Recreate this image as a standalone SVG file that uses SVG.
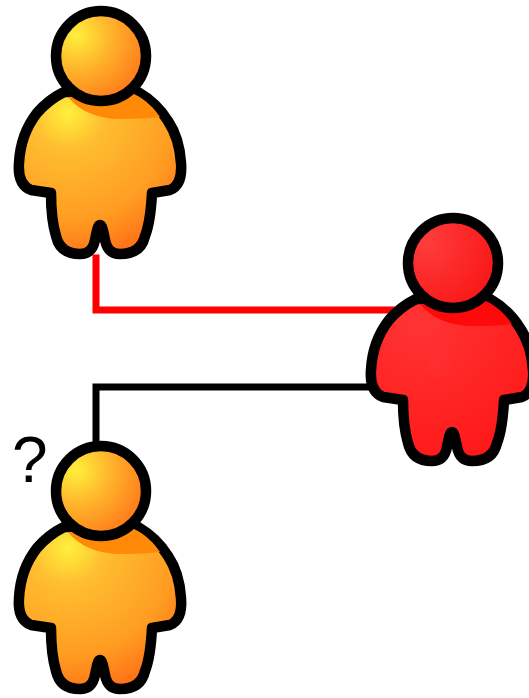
<svg xmlns="http://www.w3.org/2000/svg" xmlns:xlink="http://www.w3.org/1999/xlink" width="529" height="698" viewBox="0 0 529 698">
<style>
.outline{stroke:#000;stroke-width:10.5;stroke-linejoin:round}
.link{fill:none;stroke-width:7;stroke-linecap:square;stroke-linejoin:miter}
text{font-family:"Liberation Sans",Arial,sans-serif;font-size:64px;fill:#000}
</style>
<defs>
<radialGradient id="ob" gradientUnits="userSpaceOnUse" cx="68" cy="113" r="165"><stop offset="0" stop-color="#fff03c"/><stop offset=".22" stop-color="#ffbe30"/><stop offset=".65" stop-color="#ff9c22"/><stop offset="1" stop-color="#ff5f12"/></radialGradient>
<radialGradient id="oh" gradientUnits="userSpaceOnUse" cx="76" cy="35" r="85"><stop offset="0" stop-color="#fff03c"/><stop offset=".4" stop-color="#ffb52c"/><stop offset="1" stop-color="#ff6a14"/></radialGradient>
<radialGradient id="rb" gradientUnits="userSpaceOnUse" cx="68" cy="113" r="160"><stop offset="0" stop-color="#ff3434"/><stop offset="1" stop-color="#ff1616"/></radialGradient>
<radialGradient id="rh" gradientUnits="userSpaceOnUse" cx="76" cy="35" r="85"><stop offset="0" stop-color="#ff3c3c"/><stop offset="1" stop-color="#f81212"/></radialGradient>
<path id="body" class="outline" d="M64 92C50 99 43 106 37 113C26 127 20 145 19 163C18 176 21 186 31 190L51 193C51 212 53 226 56 236C59 249 68 254 80 254C88 254 93 250 95 240C97 230 98 225 100 225C102 225 103 230 105 240C107 250 112 254 120 254C133 254 142 249 145 236C149 226 151 212 152 193L170 190C180 186 182 176 181 163C180 147 176 133 168 121C160 108 150 99 138 92Z"/>
<path id="shade" d="M68 97C80 112 100 120 125 119C138 119 150 118 160 117C154 108 146 100 134 94Z"/>
<circle id="head" class="outline" cx="101" cy="56" r="45"/>
</defs>
<g id="connectors">
<path class="link" stroke="#ff0000" d="M96 258V310H392"/>
<path class="link" stroke="#000000" d="M96 445V387H372"/>
</g>
<g id="person-top"><use href="#body" fill="url(#ob)"/><use href="#shade" fill="#ff8a08"/><use href="#head" fill="url(#oh)"/></g>
<g id="person-red" transform="translate(352 207)"><use href="#body" fill="url(#rb)"/><use href="#shade" fill="#ff0a0a"/><ellipse cx="87" cy="158" rx="13" ry="13" fill="#ff3030" opacity=".35"/><use href="#head" fill="url(#rh)"/></g>
<g id="person-bottom" transform="translate(0 435)"><use href="#body" fill="url(#ob)"/><use href="#shade" fill="#ff8a08"/><use href="#head" fill="url(#oh)"/></g>
<g id="question"><text x="12" y="482">?</text></g>
</svg>
